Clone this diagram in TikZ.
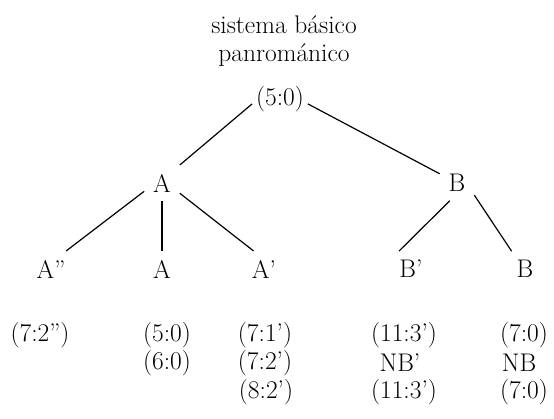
\documentclass[tikz,border=0pt]{standalone}
\usepackage{tikz}

\begin{document}
\begin{tikzpicture}[x=1pt,y=-1pt,font=\fontsize{25.5}{28}\selectfont,
    lvl/.style={inner sep=0pt,outer sep=9pt},
    val/.style={inner sep=0pt}]
        \useasboundingbox (0,0) rectangle (554,419);
        \node (title) at (284,62) [anchor=base,align=center] {sistema básico \\ panrománico};
        \node (root) at (280,99) [inner sep=0pt,outer sep=4pt] {(5:0)};
        \node (A) at (162,183) [lvl] {A};
        \node (B) at (457,183) [lvl] {B};
        \node (Aa) at (51,269) [lvl] {A''};
        \node (Ab) at (162,269) [lvl] {A};
        \node (Ac) at (264,269) [lvl] {A'};
        \node (Ba) at (411,269) [lvl] {B'};
        \node (Bb) at (525,269) [lvl] {B};
        \node (v1) at (40,335) [val] {(7:2'')};
        \node (v2) at (167,335) [val] {(5:0)};
        \node (v3) at (167,363) [val] {(6:0)};
        \node (v4) at (265,335) [val] {(7:1')};
        \node (v5) at (265,363) [val] {(7:2')};
        \node (v6) at (266,392) [val] {(8:2')};
        \node (v7) at (404,335) [val] {(11:3')};
        \node (v8) at (400,363) [val] {NB'};
        \node (v9) at (404,392) [val] {(11:3')};
        \node (v10) at (524,335) [val] {(7:0)};
        \node (v11) at (519,363) [val] {NB};
        \node (v12) at (524,392) [val] {(7:0)};
        \draw [line width=1.2pt] (root.190) -- (A.north east);
        \draw [line width=1.2pt] (root.-10) -- (B.152);
        \draw [line width=1.2pt] (A.205) -- (Aa.50);
        \draw [line width=1.2pt] (A.south) -- (Ab.north);
        \draw [line width=1.2pt] (A.330) -- (Ac.120);
        \draw [line width=1.2pt] (B.248) -- (Ba.124);
        \draw [line width=1.2pt] (B.325) -- (Bb.127);
      \end{tikzpicture}
\end{document}
